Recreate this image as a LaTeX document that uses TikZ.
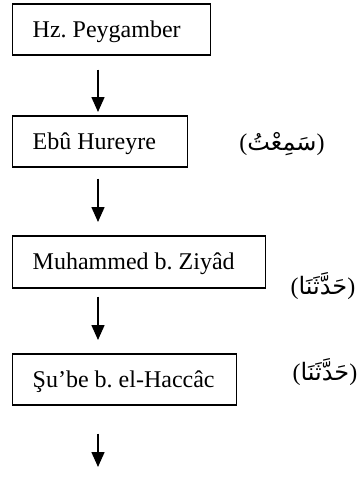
\documentclass[tikz,border=0pt]{standalone}
\usepackage{fontspec}
\setmainfont{Liberation Serif}
\newfontfamily\arabicfont[Script=Arabic]{DejaVu Sans}
\TeXXeTstate=1
\frenchspacing
\usetikzlibrary{arrows.meta}
\newcommand{\boxtext}[2]{\makebox[#1][l]{\hspace{10pt}#2}}
\newcommand{\arlab}[1]{\mbox{(}\hbox{\arabicfont\beginR #1\endR}\mbox{)}}
\tikzset{
  namebox/.style={draw, line width=0.75pt, anchor=north west, inner xsep=0pt, inner ysep=0pt,
    text height=8pt, text depth=0pt,
    minimum height=25.5pt, font=\fontsize{12}{14}\selectfont},
  arr/.style={line width=0.8pt, -{Triangle[width=6.5pt,length=7.5pt]}},
  arlabel/.style={font=\fontsize{12}{14}\selectfont, inner sep=0pt}
}
\begin{document}
\begin{tikzpicture}[x=0.5pt,y=-0.5pt]
\useasboundingbox (0,0) rectangle (360,479);
\node[namebox] (b1) at (12,3) {\boxtext{99pt}{Hz. Peygamber}};
\node[namebox] (b2) at (12,115) {\boxtext{87.5pt}{Ebû Hureyre}};
\node[namebox, minimum height=26pt] (b3) at (12,235) {\boxtext{126.5pt}{Muhammed b. Ziyâd}};
\node[namebox] (b4) at (12,353) {\boxtext{112pt}{Şu’be b. el-Haccâc}};
\coordinate (ax) at (98,0);
\coordinate (end) at (98,467);
\draw[arr, shorten <=7pt, shorten >=1.5pt] (b1.south -| ax) -- (b2.north -| ax);
\draw[arr, shorten <=5.5pt, shorten >=6.5pt] (b2.south -| ax) -- (b3.north -| ax);
\draw[arr, shorten <=4pt, shorten >=6.5pt] (b3.south -| ax) -- (b4.north -| ax);
\draw[arr, shorten <=14pt] (b4.south -| ax) -- (end);
\node[arlabel] (l1) at (282,144) {\arlab{سَمِعْتُ}};
\node[arlabel] (l2) at (323,286) {\arlab{حَدَّثَنَا}};
\node[arlabel] (l3) at (325,372) {\arlab{حَدَّثَنَا}};
\end{tikzpicture}
\end{document}
